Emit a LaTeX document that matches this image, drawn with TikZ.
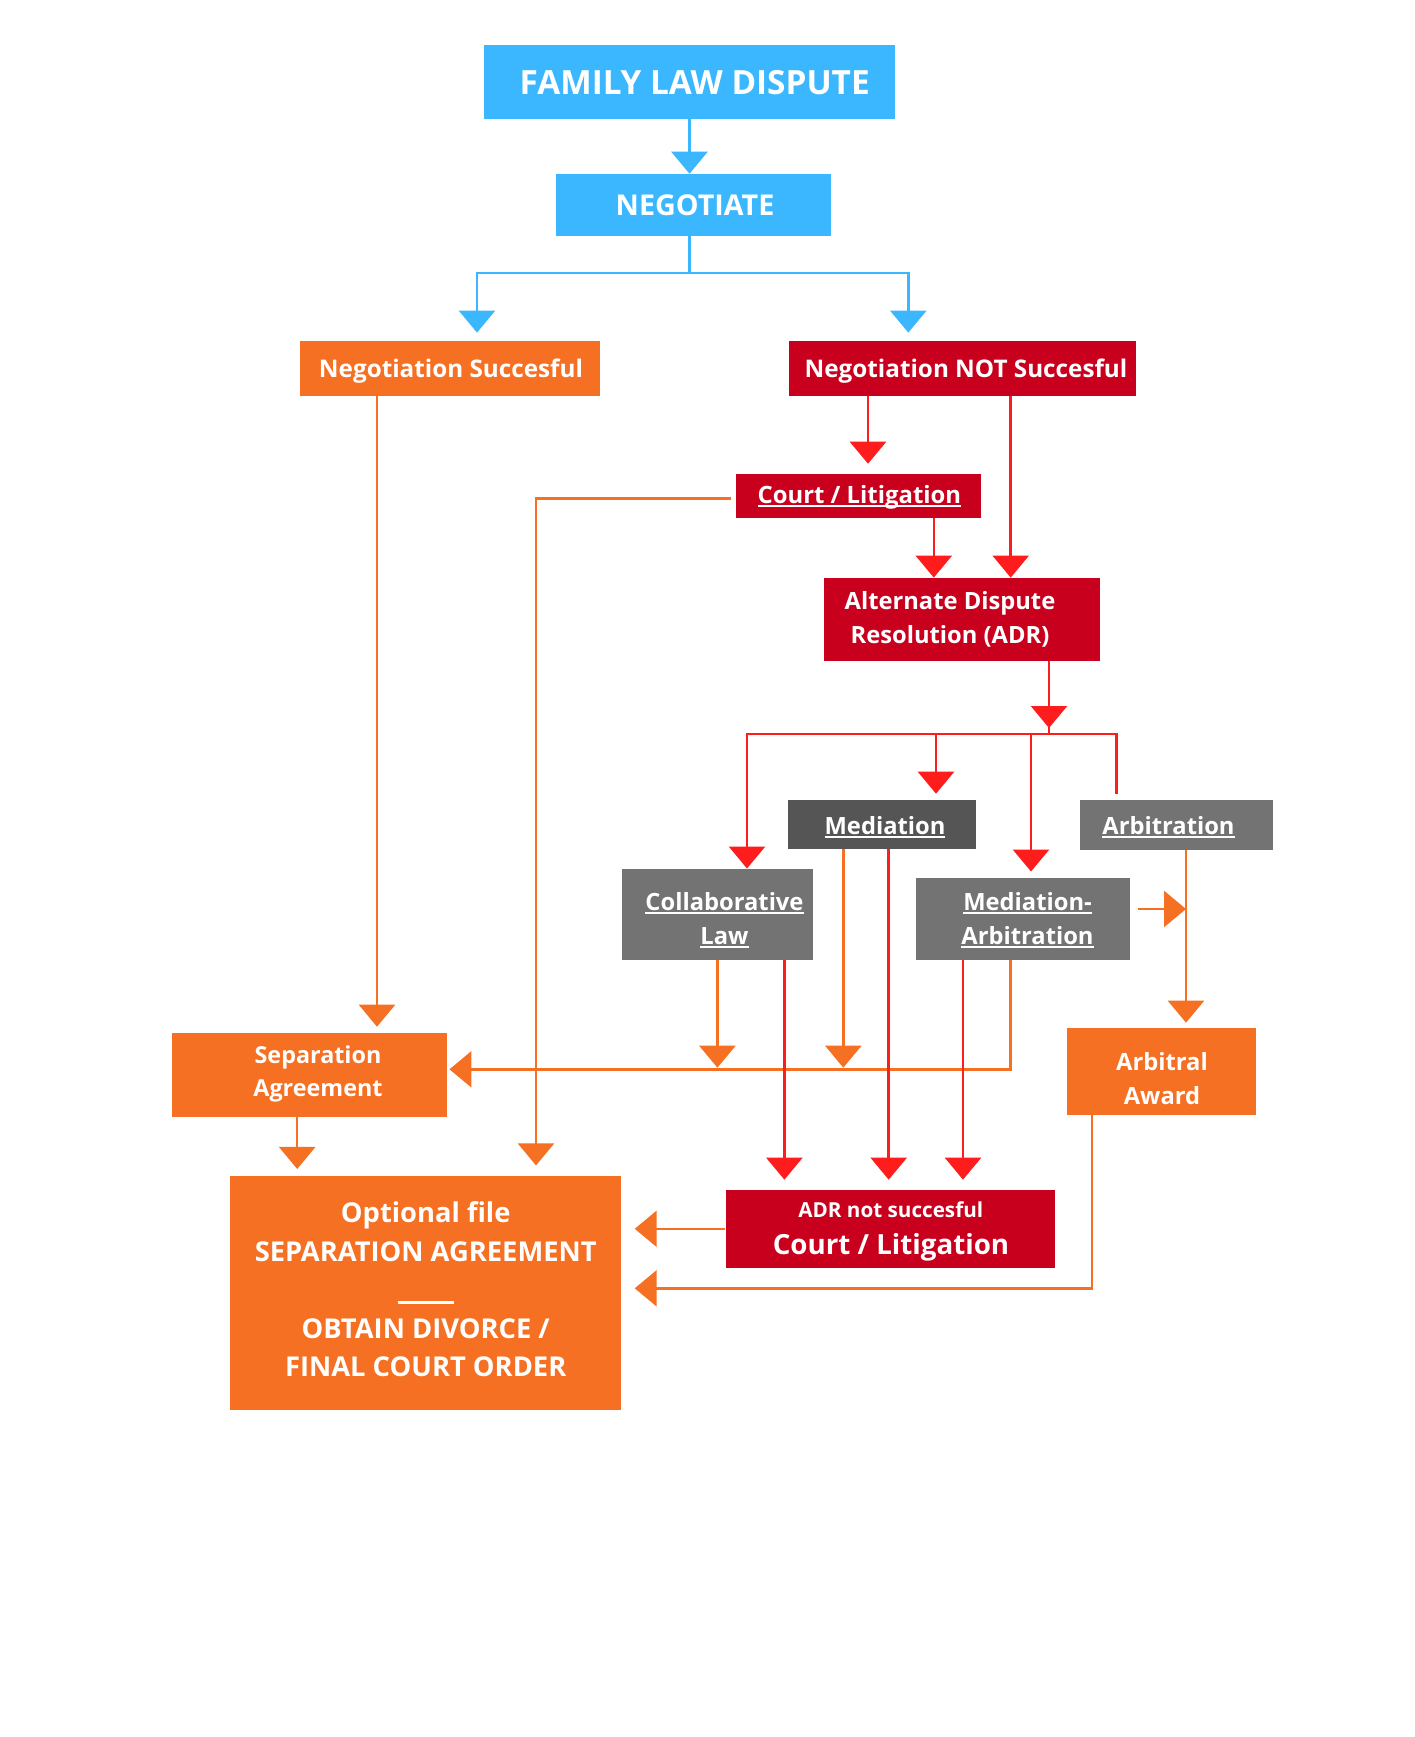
\documentclass[tikz,border=0pt]{standalone}
\usepackage{fontspec}
\setmainfont{Open Sans}
\usetikzlibrary{arrows.meta}
\definecolor{cblue}{HTML}{3BB7FF}
\definecolor{corange}{HTML}{F57022}
\definecolor{ccrimson}{HTML}{C8001E}
\definecolor{cred}{HTML}{FF1C1C}
\definecolor{cgray}{HTML}{737373}
\definecolor{cdark}{HTML}{555555}
\newcommand{\pxu}{0.75pt}
\newsavebox{\ulbox}
\newcommand{\ulx}[1]{\sbox{\ulbox}{#1}\rlap{\rule[-3pt]{\wd\ulbox}{1.6pt}}\usebox{\ulbox}}
\newcommand{\fs}[2]{\fontsize{#1}{#2}\selectfont}
\begin{document}
\begin{tikzpicture}[x=0.75pt,y=-0.75pt,
  box/.style={rectangle, inner sep=0pt, draw=none},
  txt/.style={text=white, align=center, inner sep=0pt, anchor=base},
  tip/.style={-{Triangle[width=27pt,length=16.5pt]}},
  lnb/.style={draw=cblue, line width=1.9pt},
  lno/.style={draw=corange, line width=1.9pt},
  lnr/.style={draw=cred, line width=1.9pt},
]
\fill[white] (0,0) rectangle (1414,1737);
\useasboundingbox (0,0) rectangle (1414,1737);

% boxes
\node[box, fill=cblue, minimum width=411*\pxu, minimum height=74*\pxu] (fld) at (689.5,82) {};
\node[box, fill=cblue, minimum width=275*\pxu, minimum height=62*\pxu] (neg) at (693.3,205) {};
\node[box, fill=corange, minimum width=300*\pxu, minimum height=55*\pxu] (ns) at (450,368.4) {};
\node[box, fill=ccrimson, minimum width=347*\pxu, minimum height=55*\pxu] (nns) at (962.4,368.4) {};
\node[box, fill=ccrimson, minimum width=245*\pxu, minimum height=44*\pxu] (court) at (858,496) {};
\node[box, fill=ccrimson, minimum width=276*\pxu, minimum height=83*\pxu] (adr) at (962,619.4) {};
\node[box, fill=cdark, minimum width=188.5*\pxu, minimum height=49*\pxu] (med) at (881.8,824.5) {};
\node[box, fill=cgray, minimum width=192.7*\pxu, minimum height=50*\pxu] (arb) at (1176.3,824.8) {};
\node[box, fill=cgray, minimum width=191*\pxu, minimum height=91*\pxu] (collab) at (717.5,914.3) {};
\node[box, fill=cgray, minimum width=214*\pxu, minimum height=82*\pxu] (medarb) at (1022.5,918.8) {};
\node[box, fill=corange, minimum width=189*\pxu, minimum height=87*\pxu] (award) at (1161.5,1071.5) {};
\node[box, fill=corange, minimum width=275*\pxu, minimum height=83.7*\pxu] (sep) at (309.3,1074.8) {};
\node[box, fill=corange, minimum width=391.4*\pxu, minimum height=234.3*\pxu] (final) at (425.7,1292.8) {};
\node[box, fill=ccrimson, minimum width=329*\pxu, minimum height=77.7*\pxu] (adrns) at (890,1228.8) {};

% texts (anchor=base: baseline of the last line)
\node[txt, font=\bfseries\fs{25}{29}] (fldT) at (694.7,95) {FAMILY LAW DISPUTE};
\node[txt, font=\bfseries\fs{21.5}{25}] (negT) at (695,215.7) {NEGOTIATE};
\node[txt, font=\bfseries\fs{18.2}{25}] (nsT) at (451,377.3) {Negotiation Succesful};
\node[txt, font=\bfseries\fs{18.2}{25}] (nnsT) at (966,377.3) {Negotiation NOT Succesful};
\node[txt, font=\bfseries\fs{17.9}{25}] (courtT) at (859.4,503.3) {\ulx{Court / Litigation}};
\node[txt, font=\bfseries\fs{17.8}{25.5}] (adrT) at (950,643.3) {Alternate Dispute\\Resolution (ADR)};
\node[txt, font=\bfseries\fs{17.8}{25.5}] (medT) at (885,834) {\ulx{Mediation}};
\node[txt, font=\bfseries\fs{17.8}{25.5}] (arbT) at (1168.5,834) {\ulx{Arbitration}};
\node[txt, font=\bfseries\fs{17.8}{25.5}] (collabT) at (724.5,944) {\ulx{Collaborative}\\\ulx{Law}};
\node[txt, font=\bfseries\fs{17.8}{25.5}] (medarbT) at (1027.5,944) {\ulx{Mediation-}\\\ulx{Arbitration}};
\node[txt, font=\bfseries\fs{17.8}{25.5}] (awardT) at (1162,1104) {Arbitral\\Award};
\node[txt, font=\bfseries\fs{17.5}{25}] (sepT) at (318,1096.7) {Separation\\Agreement};
\node[txt, font=\bfseries\fs{20.5}{28.9}] (finalT) at (425.7,1376.7) {Optional file\\SEPARATION AGREEMENT\\\rule[-2.9pt]{42pt}{1.7pt}\\OBTAIN DIVORCE /\\FINAL COURT ORDER};
\node[txt, font=\bfseries\fs{15.5}{20}] (adrns1T) at (890.8,1217.7) {ADR not succesful};
\node[txt, font=\bfseries\fs{20.8}{27}] (adrns2T) at (891,1254) {Court / Litigation};

% guide coordinates
\coordinate (gA) at (689.5,0);
\coordinate (yB) at (0,273);
\coordinate (gNS) at (477,0);
\coordinate (gNNS) at (908.3,0);
\coordinate (gR1) at (868,0);
\coordinate (gR2) at (1010.7,0);
\coordinate (gR3) at (933.8,0);
\coordinate (gR4) at (1049,0);
\coordinate (hub) at (0,734);
\coordinate (gC) at (747,0);
\coordinate (gM) at (936,0);
\coordinate (gMA) at (1031,0);
\coordinate (gAR) at (1116.5,0);
\coordinate (gRc) at (784.4,0);
\coordinate (gRm) at (888.7,0);
\coordinate (gRma) at (963,0);
\coordinate (gOns) at (377,0);
\coordinate (gOct) at (536,0);
\coordinate (gOc) at (717.4,0);
\coordinate (gOm) at (843.3,0);
\coordinate (gOma) at (1010.7,0);
\coordinate (gOarb) at (1186,0);
\coordinate (gOsep) at (297.2,0);
\coordinate (gOaw) at (1092,0);
\coordinate (hl) at (0,1069.3);
\coordinate (yCt) at (0,498.3);
\coordinate (yAw) at (0,1288.3);
\coordinate (mab) at (1138,909);

% blue connectors
\draw[lnb,tip] (gA |- fld.south) -- (gA |- neg.north);
\draw[lnb] (gA |- neg.south) -- (gA |- yB) coordinate (bj);
\draw[lnb,tip,shorten >=6pt] (bj) -| (gNS |- ns.north);
\draw[lnb,tip,shorten >=6pt] (bj) -| (gNNS |- nns.north);

% orange connectors
\draw[lno,tip,shorten >=4.5pt] (gOns |- ns.south) -- (gOns |- sep.north);
\draw[lno,tip,shorten >=7.5pt] ([xshift=-3pt]court.west |- yCt) -| (gOct |- final.north);
\draw[lno,tip,shorten >=1.2pt] (gOc |- collab.south) -- (gOc |- hl);
\draw[lno,tip,shorten >=1.2pt] (gOm |- med.south) -- (gOm |- hl);
\draw[lno,tip,shorten >=1.8pt] (gOma |- medarb.south) |- (sep.east |- hl);
\draw[lno,tip] (mab) -- (gOarb |- mab);
\draw[lno,tip,shorten >=3.8pt] (gOarb |- arb.south) -- (gOarb |- award.north);
\draw[lno,tip,shorten >=4.8pt] (gOsep |- sep.south) -- (gOsep |- final.north);
\draw[lno,tip,shorten >=9.8pt] (adrns.west) -- (final.east |- adrns.west);
\draw[lno,tip,shorten >=9.8pt] (gOaw |- award.south) |- (final.east |- yAw);

% red connectors
\draw[lnr,tip,shorten >=7.5pt] (gR1 |- nns.south) -- (gR1 |- court.north);
\draw[lnr,tip] (gR2 |- nns.south) -- (gR2 |- adr.north);
\draw[lnr,tip] (gR3 |- court.south) -- (gR3 |- adr.north);
\draw[lnr,tip,shorten >=4.5pt] (gR4 |- adr.south) -- (gR4 |- hub);
\draw[lnr] (gR4 |- hub) -- ++(0,-9);
\draw[lnr,line cap=rect] (gC |- hub) -- (gAR |- hub);
\draw[lnr,tip] (gC |- hub) -- (gC |- collab.north);
\draw[lnr,tip,shorten >=4.5pt] (gM |- hub) -- (gM |- med.north);
\draw[lnr,tip,shorten >=4.5pt] (gMA |- hub) -- (gMA |- medarb.north);
\draw[lnr,shorten >=4.5pt] (gAR |- hub) -- (gAR |- arb.north);
\draw[lnr,tip,shorten >=7.5pt] (gRc |- collab.south) -- (gRc |- adrns.north);
\draw[lnr,tip,shorten >=7.5pt] (gRm |- med.south) -- (gRm |- adrns.north);
\draw[lnr,tip,shorten >=7.5pt] (gRma |- medarb.south) -- (gRma |- adrns.north);
\end{tikzpicture}
\end{document}
